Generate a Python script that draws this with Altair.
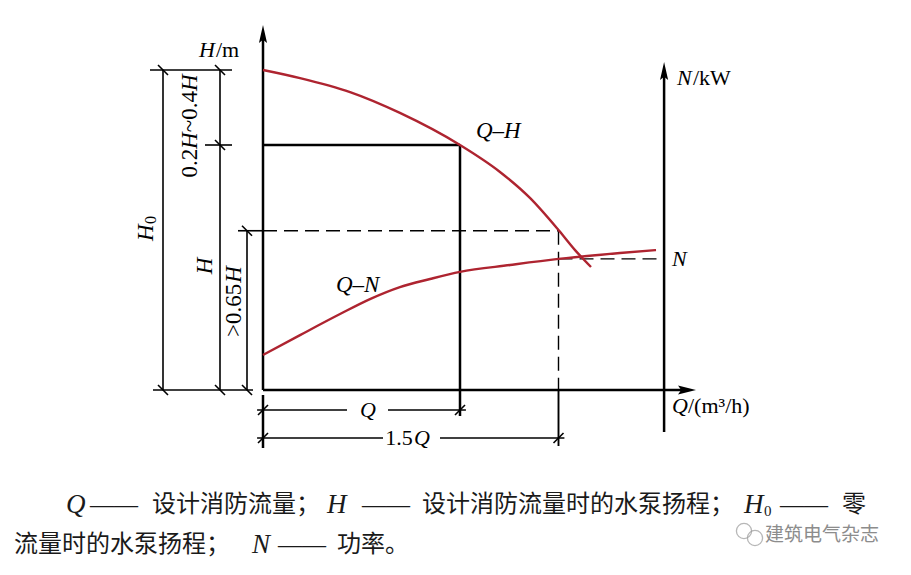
import altair as alt
import pandas as pd

W, H = 911, 575
# layout of the diagram: origin and pixel size of one unit (Q and H)
ORIGIN_X, ORIGIN_Y = 263, 390
PX_Q, PX_H = 197, 245


def ux(px):
    return (px - ORIGIN_X) / PX_Q


def uy(py):
    return (ORIGIN_Y - py) / PX_H


# ---------------- data (multiples of design flow Q / design head H) ----------------
qh_q = [0, 0.188, 0.442, 0.695, 1.0, 1.203, 1.355, 1.5, 1.584, 1.665]
qh_h = [1.306, 1.273, 1.216, 1.131, 1.0, 0.890, 0.784, 0.653, 0.571, 0.502]
qn_q = [0, 0.188, 0.391, 0.543, 0.695, 0.848, 1.0, 1.254, 1.5, 1.812, 1.995]
qn_n = [0.143, 0.224, 0.310, 0.371, 0.420, 0.453, 0.482, 0.510, 0.535, 0.559, 0.571]

H0 = 1.306       # head at zero flow
Q_D = 1.0        # design flow
Q_MAX = 1.5      # 1.5 Q
H_MIN = 0.65     # 0.65 H
N_LEVEL = 0.535  # power at 1.5Q
N_AXIS = 2.036   # position of N axis on Q scale

RED = "#ae2430"
SERIF = "Liberation Serif"
CJK = "Noto Sans CJK SC"

xs = alt.Scale(domain=[ux(0), ux(W)], nice=False, zero=False)
ys = alt.Scale(domain=[uy(H), uy(0)], nice=False, zero=False)


def segs(rows, **mark):
    df = pd.DataFrame(rows, columns=["x", "y", "x2", "y2"])
    return alt.Chart(df).mark_rule(**mark).encode(
        x=alt.X("x:Q", scale=xs, axis=None),
        y=alt.Y("y:Q", scale=ys, axis=None),
        x2="x2:Q", y2="y2:Q")


def texts(rows, **mark):
    df = pd.DataFrame(rows, columns=["x", "y", "t"])
    return alt.Chart(df).mark_text(**mark).encode(
        x=alt.X("x:Q", scale=xs, axis=None),
        y=alt.Y("y:Q", scale=ys, axis=None),
        text="t:N")


def points(rows, **mark):
    df = pd.DataFrame(rows, columns=["x", "y"])
    return alt.Chart(df).mark_point(**mark).encode(
        x=alt.X("x:Q", scale=xs, axis=None),
        y=alt.Y("y:Q", scale=ys, axis=None))


# ---------------- curves ----------------
curves = pd.DataFrame(
    [{"q": q, "v": v, "c": "Q-H"} for q, v in zip(qh_q, qh_h)]
    + [{"q": q, "v": v, "c": "Q-N"} for q, v in zip(qn_q, qn_n)])
curve_layer = alt.Chart(curves).mark_line(
    color=RED, strokeWidth=2.4, interpolate="monotone").encode(
    x=alt.X("q:Q", scale=xs, axis=None),
    y=alt.Y("v:Q", scale=ys, axis=None),
    detail="c:N")

# ---------------- axes & arrows ----------------
h_tip = uy(34)
n_tip = uy(71)
q_tip = ux(687)
axes = segs([
    (0, 0, 0, h_tip),                       # H axis
    (0, 0, q_tip, 0),                       # Q axis
    (N_AXIS, uy(432), N_AXIS, n_tip),       # N axis
    (0, 1, Q_D, 1),                         # design point box
    (Q_D, 1, Q_D, uy(416)),
    (0, uy(395), 0, uy(448)),               # extension below origin
], color="black", strokeWidth=2.5)

UP = "M0,-1L0.45,1L0,0.65L-0.45,1Z"
RIGHT = "M1,0L-1,0.5L-0.65,0L-1,-0.5Z"
arrows_up = points([(0, h_tip), (N_AXIS, n_tip)], shape=UP, size=324,
                   filled=True, color="black", opacity=1, strokeWidth=0)
arrows_r = points([(q_tip, 0)], shape=RIGHT, size=324,
                  filled=True, color="black", opacity=1, strokeWidth=0)

# ---------------- dashed guides ----------------
dashed = segs([
    (0, H_MIN, Q_MAX, H_MIN),
    (Q_MAX, H_MIN, Q_MAX, 0),
    (Q_MAX, N_LEVEL, N_AXIS, N_LEVEL),
], color="black", strokeWidth=1.4, strokeDash=[14, 7])

# ---------------- dimension lines ----------------
x_h0 = ux(163)
x_h = ux(220)
x_065 = ux(247)
y_qd = uy(410)
y_15q = uy(438)
dims = segs([
    (ux(150), H0, ux(232), H0),
    (ux(205), 1, ux(232), 1),
    (ux(238), H_MIN, 0, H_MIN),
    (ux(153), 0, ux(253), 0),
    (x_h0, 0, x_h0, H0),
    (x_h, 0, x_h, H0),
    (x_065, 0, x_065, H_MIN),
    (-0.03, y_qd, ux(347), y_qd),
    (ux(388), y_qd, Q_D + 0.03, y_qd),
    (-0.03, y_15q, ux(383), y_15q),
    (ux(440), y_15q, Q_MAX + 0.03, y_15q),
], color="black", strokeWidth=1.6)
dims_thick = segs([
    (Q_MAX, 0, Q_MAX, uy(446)),
], color="black", strokeWidth=1.9)

# oblique tick marks
dq, dh = 5 / PX_Q, 5 / PX_H
vticks = [(x_h0, H0), (x_h0, 0), (x_h, H0), (x_h, 1), (x_h, 0),
          (x_065, H_MIN), (x_065, 0)]
hticks = [(0, y_qd), (Q_D, y_qd), (0, y_15q), (Q_MAX, y_15q)]
tick_rows = [(q - dq, h + dh, q + dq, h - dh) for q, h in vticks] + \
            [(q - dq, h - dh, q + dq, h + dh) for q, h in hticks]
ticks = segs(tick_rows, color="black", strokeWidth=1.6)

# ---------------- labels ----------------
lab_it = texts([
    (ux(199), uy(57), "H"),
    (ux(677), uy(85), "N"),
    (ux(672), uy(413), "Q"),
    (ux(672), uy(266), "N"),
], font=SERIF, fontSize=22, fontStyle="italic", align="left",
    baseline="alphabetic", color="black")
lab_up = texts([
    (ux(216), uy(57), "/m"),
    (ux(693), uy(85), "/kW"),
    (ux(688), uy(413), "/(m³/h)"),
], font=SERIF, fontSize=22, align="left", baseline="alphabetic", color="black")
curve_lab = texts([
    (ux(476), uy(138), "Q–H"),
    (ux(336), uy(292), "Q–N"),
], font=SERIF, fontSize=23, fontStyle="italic", align="left",
    baseline="alphabetic", color="black")

dim_it = texts([
    (ux(368), y_qd, "Q"),
    (ux(422), y_15q, "Q"),
], font=SERIF, fontSize=22, fontStyle="italic", align="center",
    baseline="middle", color="black")
dim_up = texts([
    (ux(399), y_15q, "1.5"),
], font=SERIF, fontSize=22, align="center", baseline="middle", color="black")

rot_it = texts([
    (ux(190), uy(148.9), "H"),
    (ux(190), uy(91.1), "H"),
    (ux(205), uy(274.3), "H"),
    (ux(234), uy(282.7), "H"),
    (ux(146), uy(241), "H"),
], font=SERIF, fontSize=23, fontStyle="italic", angle=270, align="left",
    baseline="middle", color="black")
rot_up = texts([
    (ux(190), uy(177.6), "0.2"),
    (ux(190), uy(132.2), "~0.4"),
    (ux(234), uy(337), ">0.65"),
], font=SERIF, fontSize=23, angle=270, align="left", baseline="middle",
    color="black")
rot_sub = texts([
    (ux(151), uy(224), "0"),
], font=SERIF, fontSize=16, angle=270, align="left", baseline="middle",
    color="black")

# ---------------- caption ----------------
L1, L2 = uy(505), uy(545)
cap_cjk = texts([
    (ux(152), L1, "设计消防流量；"),
    (ux(422), L1, "设计消防流量时的水泵扬程；"),
    (ux(842), L1, "零"),
    (ux(14), L2, "流量时的水泵扬程；"),
    (ux(337), L2, "功率。"),
], font=CJK, fontSize=24, align="left", baseline="middle", color="#1a1a1a")
cap_it = texts([
    (ux(66), L1, "Q"),
    (ux(327), L1, "H"),
    (ux(744), L1, "H"),
    (ux(252), L2, "N"),
], font=SERIF, fontSize=27, fontStyle="italic", align="left",
    baseline="middle", color="#1a1a1a")
cap_dash = texts([
    (ux(90), L1, "——"),
    (ux(362), L1, "——"),
    (ux(780), L1, "——"),
    (ux(278), L2, "——"),
], font=SERIF, fontSize=24, align="left", baseline="middle", color="#1a1a1a")
cap_sub = texts([
    (ux(764), uy(511), "0"),
], font=SERIF, fontSize=15, align="left", baseline="middle", color="#1a1a1a")

# watermark
wm_text = texts([
    (ux(765), uy(535), "建筑电气杂志"),
], font=CJK, fontSize=19, align="left", baseline="middle", color="#8c8c8c")
wm_icon = points([(ux(744), uy(531)), (ux(755), uy(538))], shape="circle",
                 size=230, filled=False, color="#9a9a9a", strokeWidth=1.3)

chart = alt.layer(
    dashed, dims, dims_thick, ticks, axes, curve_layer, arrows_up, arrows_r,
    lab_it, lab_up, curve_lab, dim_it, dim_up, rot_it, rot_up, rot_sub,
    cap_cjk, cap_it, cap_dash, cap_sub, wm_text, wm_icon,
).properties(
    width=W, height=H, padding=0,
    autosize=alt.AutoSizeParams(type="none"),
    background="white",
).configure_view(stroke=None)

chart.save("out.html", embed_options={"renderer": "svg", "actions": False})
